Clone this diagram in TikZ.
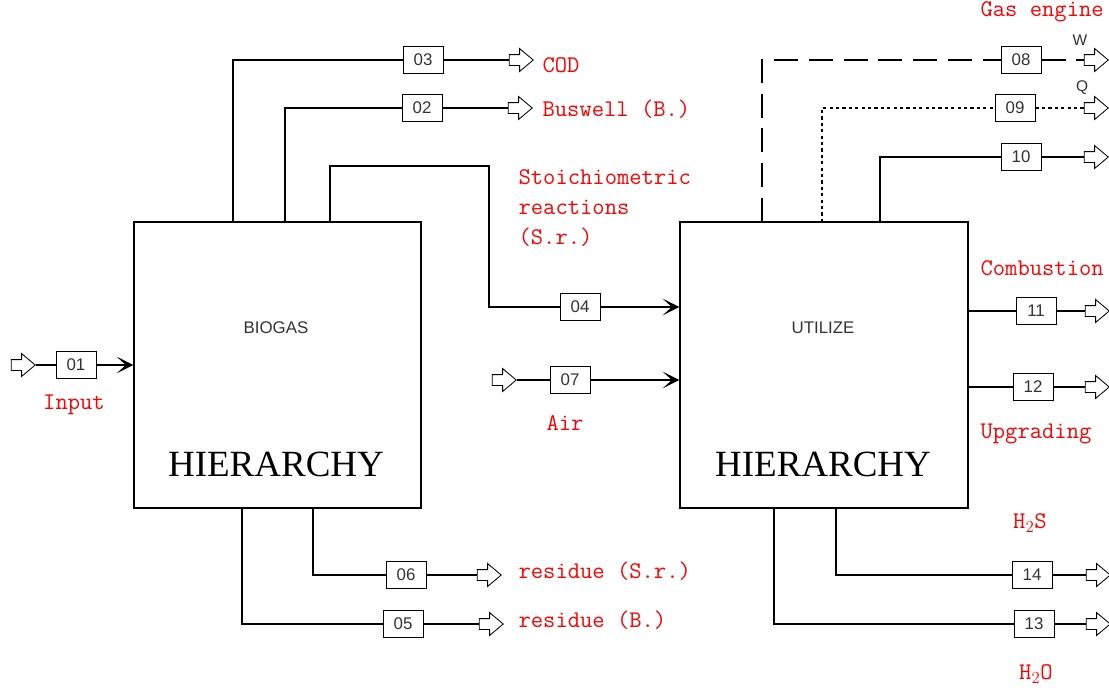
\documentclass[tikz,border=0pt]{standalone}
\usepackage{fontspec}
\newfontfamily\boxfont{Liberation Sans}
\newfontfamily\bigfont{Liberation Serif}
\usetikzlibrary{arrows.meta,shapes.arrows}
\definecolor{labelred}{rgb}{1,0,0}
\definecolor{numgray}{rgb}{0.2,0.2,0.2}

\tikzset{
  stage/.style={draw, line width=0.8pt, minimum width=7.175cm, minimum height=7.15cm, inner sep=0},
  stagename/.style={font=\boxfont\fontsize{12}{12}\selectfont, text=numgray, inner sep=0},
  hier/.style={font=\bigfont\fontsize{26.3}{26}\selectfont, inner sep=0},
  numbox/.style={draw, line width=0.7pt, minimum width=1cm, minimum height=0.68cm, inner sep=0,
    font=\boxfont\fontsize{12}{12}\selectfont, text=numgray},
  flowout/.style={single arrow, draw, line width=0.6pt, inner xsep=0, inner ysep=0.125cm,
    minimum height=0.6cm, single arrow head extend=0.15cm, single arrow tip angle=80},
  tag/.style={text=labelred, font=\ttfamily\fontsize{17}{21.3}\selectfont, inner sep=0},
  wq/.style={font=\boxfont\fontsize{11}{11}\selectfont, text=numgray, inner sep=0},
}

\begin{document}
\begin{tikzpicture}[x=0.025cm, y=-0.025cm, line width=0.8pt,
  >={Stealth[length=4.2mm, width=4.2mm, inset=2.3mm]}]
  \useasboundingbox (0,0) rectangle (1109,687);

  % the two hierarchy blocks
  \node[stage] (bio) at (277.5,365) {};
  \node[stagename] (bioname) at (276,328) {BIOGAS};
  \node[hier] (biohier) at (276,464) {HIERARCHY};
  \node[stage, minimum width=7.2cm] (util) at (824,365) {};
  \node[stagename] (utilname) at (823,328) {UTILIZE};
  \node[hier] (utilhier) at (823,464) {HIERARCHY};

  % numbered streams
  \node[numbox] (b01) at (76,365) {01};
  \node[numbox] (b02) at (422,108) {02};
  \node[numbox] (b03) at (423,60) {03};
  \node[numbox] (b04) at (580,307) {04};
  \node[numbox] (b05) at (403,624) {05};
  \node[numbox] (b06) at (406,575) {06};
  \node[numbox] (b07) at (570,380) {07};
  \node[numbox] (b08) at (1021,60) {08};
  \node[numbox] (b09) at (1015,108) {09};
  \node[numbox] (b10) at (1021,157) {10};
  \node[numbox] (b11) at (1036,311) {11};
  \node[numbox] (b12) at (1033,387) {12};
  \node[numbox] (b13) at (1034,624) {13};
  \node[numbox] (b14) at (1032,575) {14};

  % open block arrows (sources and sinks)
  \node[flowout] (i01) at (20,365) {};
  \node[flowout] (i07) at (501,380) {};
  \node[flowout] (o02) at (517,108) {};
  \node[flowout] (o03) at (518,60) {};
  \node[flowout] (o05) at (488,624) {};
  \node[flowout] (o06) at (486,575) {};
  \node[flowout] (o08) at (1093,60) {};
  \node[flowout] (o09) at (1093,108) {};
  \node[flowout] (o10) at (1093,157) {};
  \node[flowout] (o11) at (1094,311) {};
  \node[flowout] (o12) at (1094,387) {};
  \node[flowout] (o13) at (1095,624) {};
  \node[flowout] (o14) at (1095,575) {};

  % taps on the block edges
  \coordinate (t02) at (285,222);
  \coordinate (t03) at (233,222);
  \coordinate (t04) at (330,222);
  \coordinate (k04) at (489,166);
  \coordinate (d05) at (242,508);
  \coordinate (d06) at (313,508);
  \coordinate (u08) at (762,222);
  \coordinate (u09) at (822,222);
  \coordinate (u10) at (880,222);
  \coordinate (u13) at (774,508);
  \coordinate (u14) at (836,508);

  % BIOGAS streams
  \draw (i01) -- (b01);
  \draw[->] (b01) -- (b01 -| bio.west);
  \draw (t03) |- (b03) -- (o03);
  \draw (t02) |- (b02) -- (o02);
  \draw (t04) |- (k04) |- (b04);
  \draw[->] (b04) -- (b04 -| util.west);
  \draw (d06) |- (b06) -- (o06);
  \draw (d05) |- (b05) -- (o05);

  % UTILIZE streams
  \draw (i07) -- (b07);
  \draw[->] (b07) -- (b07 -| util.west);
  \draw[dash pattern=on 0.6cm off 0.27cm] (u08) |- (b08) -- (o08);
  \draw[dash pattern=on 0.8mm off 0.8mm] (u09) |- (b09) -- (o09);
  \draw (u10) |- (b10) -- (o10);
  \draw (util.east |- b11) -- (b11) -- (o11);
  \draw (util.east |- b12) -- (b12) -- (o12);
  \draw (u14) |- (b14) -- (o14);
  \draw (u13) |- (b13) -- (o13);

  \node[wq] (wlab) at (1080,40) {W};
  \node[wq] (qlab) at (1082,88) {Q};

  % red labels
  \node[tag] (input) at (74,405) {Input};
  \node[tag] (air) at (565,423) {Air};
  \node[tag, anchor=west] (cod) at (542,65) {COD};
  \node[tag, anchor=west] (buswell) at (542,109) {Buswell (B.)};
  \node[tag, anchor=west, align=left] (stoich) at (518,208) {Stoichiometric\\reactions\\(S.r.)};
  \node[tag, anchor=west] (ressr) at (518,571) {residue (S.r.)};
  \node[tag, anchor=west] (resb) at (518,620) {residue (B.)};
  \node[tag, anchor=west] (gas) at (980,12) {Gas engine};
  \node[tag, anchor=west] (comb) at (980,268) {Combustion};
  \node[tag, anchor=west] (upgr) at (980,434) {Upgrading};
  \node[tag] (htwos) at (1030,523) {H$_2$S};
  \node[tag] (htwoo) at (1036,674) {H$_2$O};
\end{tikzpicture}
\end{document}
